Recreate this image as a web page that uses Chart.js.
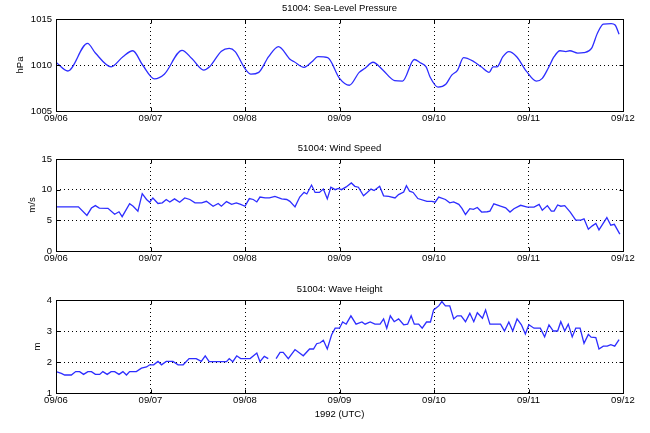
<!DOCTYPE html>
<html>
<head>
<meta charset="utf-8">
<script src="https://cdn.jsdelivr.net/npm/chart.js@4/dist/chart.umd.min.js"></script>
<style>
  html, body { margin: 0; padding: 0; background: #ffffff; }
  body { width: 650px; height: 433px; position: relative; overflow: hidden; }
  canvas { position: absolute; left: 0; }
</style>
</head>
<body>
<canvas id="c1" width="650" height="140" style="top:0px"></canvas>
<canvas id="c2" width="650" height="140" style="top:140px"></canvas>
<canvas id="c3" width="650" height="153" style="top:280px"></canvas>
<script>
// ---- data (x in hours since 1992-09-06 00:00 UTC) ----
const dayLabels = ['09/06', '09/07', '09/08', '09/09', '09/10', '09/11', '09/12'];

const pressureHours = [0, 3, 8, 10, 14, 17, 19.5, 22, 25, 27.5, 32, 34.5, 37.5, 39, 42, 44, 45.5, 48, 49.5, 51.5,
  54, 56.5, 59.5, 60.5, 63, 65, 66.5, 69, 72, 74.5, 77, 78.5, 80.5, 83, 86, 88, 91, 92.5, 94, 95,
  97, 99, 100.5, 102, 103.5, 106, 108, 110, 111, 112, 113.5, 115, 117, 119.5, 122, 123.5, 125, 126.5, 128, 129.5,
  130.5, 132.5, 134, 136, 137.5, 139, 141, 142, 143];
const pressureValues = [1010.3, 1009.35, 1012.35, 1011.3, 1009.8, 1010.9, 1011.55, 1010.0, 1008.5, 1009.0,
  1011.6, 1010.7, 1009.45, 1009.8, 1011.5, 1011.8, 1011.45, 1009.6, 1009.0, 1009.2,
  1010.9, 1012.0, 1010.6, 1010.35, 1009.75, 1010.35, 1010.9, 1010.8, 1008.55, 1007.8,
  1009.2, 1009.65, 1010.3, 1009.45, 1008.3, 1008.25, 1010.6, 1010.25, 1009.8, 1008.7,
  1007.6, 1007.9, 1008.9, 1009.45, 1010.8, 1010.4, 1009.8, 1009.2, 1009.8, 1009.8,
  1010.9, 1011.45, 1010.9, 1009.3, 1008.25, 1008.55, 1009.65, 1010.9, 1011.55, 1011.45,
  1011.55, 1011.3, 1011.35, 1011.8, 1013.45, 1014.45, 1014.5, 1014.35, 1013.35];

const windHours = [0, 5.7, 7.85, 9, 10, 11, 13.2, 14.9, 16, 16.8, 18.7, 19.6, 20.8, 21.9, 23, 23.8, 24.6, 25.9, 27, 28,
  28.9, 30.1, 31.4, 32.7, 34, 35.3, 37, 38.2, 39.9, 41.2, 42, 43.3, 44.6, 45.8, 46.9, 48, 49.1, 50.1, 51, 51.8,
  53.1, 54.2, 55.6, 57.3, 58.6, 59.4, 60.7, 61.9, 63, 63.7, 64.9, 65.8, 66.9, 67.9, 68.9, 69.8, 70.9, 71.7, 72.5, 73.7,
  75, 75.9, 76.8, 78.1, 78.9, 80, 80.8, 82.2, 83.2, 84.5, 86.1, 87, 88.3, 89, 89.8, 90.7, 91.9, 94.2, 95.5, 96.3,
  97.2, 98.9, 100, 101, 102.3, 103.1, 104, 105.1, 106, 107, 108.1, 109.5, 110.2, 111.2, 112.9, 114.2, 115.3, 116.3, 118, 119.7,
  121.4, 122.7, 123.5, 124.8, 125.8, 126.5, 127.4, 128.2, 129.2, 130.6, 132, 133.3, 134.1, 135.2, 136.2, 137.1, 137.9, 138.8, 139.9, 140.9,
  141.8, 143.2];
const windSpeed = [7.2, 7.2, 5.8, 7.0, 7.4, 7.0, 6.95, 6.0, 6.4, 5.6, 7.7, 7.3, 6.5, 9.35, 8.4, 7.95, 8.65, 7.75, 7.85, 8.4,
  8.0, 8.5, 7.95, 8.65, 8.4, 7.85, 7.85, 8.1, 7.3, 7.75, 7.3, 8.05, 7.6, 7.85, 7.6, 7.3, 8.55, 8.4, 8.0, 8.8,
  8.65, 8.65, 8.9, 8.5, 8.4, 8.1, 7.2, 8.8, 9.55, 9.3, 10.75, 9.55, 9.55, 10.1, 8.5, 10.4, 10.0, 10.2, 10.0, 10.45,
  11.1, 10.55, 10.4, 9.0, 9.45, 10.1, 9.85, 10.55, 9.0, 8.9, 8.65, 9.2, 9.6, 10.65, 9.75, 9.55, 8.55, 8.1, 8.1, 7.95,
  8.8, 8.4, 7.85, 8.0, 7.6, 6.95, 5.95, 6.9, 6.8, 7.1, 6.35, 6.4, 6.5, 7.7, 7.3, 7.05, 6.35, 6.9, 7.45, 7.15,
  7.15, 7.6, 6.65, 7.4, 6.5, 6.5, 7.5, 7.3, 7.4, 6.35, 5.05, 5.05, 5.25, 3.55, 4.1, 4.5, 3.45, 4.35, 5.45, 4.2,
  4.35, 2.75];

const waveHours = [0, 1.35, 2.2, 3.9, 5, 6, 7, 8.1, 9, 10, 11.1, 11.9, 13, 14, 14.9, 16, 17, 17.9, 18.7, 20.4,
  21.7, 23, 23.8, 24.8, 25.9, 26.8, 28, 29.7, 31, 32.3, 33.8, 35.6, 36.9, 37.9, 38.9, 40.8, 43.3, 44, 44.9, 45.9,
  46.9, 49.3, 51, 51.8, 52.9, 53.9, 55, 55.9, 56.9, 57.7, 59, 60.7, 62.8, 64.4, 65.4, 66.2, 67.1, 67.9, 68.9, 70,
  70.9, 72, 72.8, 73.7, 74.9, 76.2, 77.7, 78.5, 79.8, 81, 82.3, 83.2, 84, 84.9, 85.9, 87, 88.3, 89.3, 90.2, 91,
  92.1, 93, 94.1, 95.1, 95.9, 97.2, 98, 98.9, 100, 101, 101.9, 102.9, 104, 105.1, 106.1, 107, 108.3, 109.1, 110.2, 111.7,
  112.9, 113.9, 115, 116, 117.1, 118.2, 119.2, 120.1, 121.4, 123, 124.1, 125.2, 126.3, 127.4, 128.2, 129.2, 130.1, 131.1,
  132, 133.1, 134.1, 135.2, 135.9, 137.1, 137.9, 139, 140, 140.9, 141.9, 143];
const waveHeight = [1.69, 1.63, 1.58, 1.58, 1.69, 1.69, 1.6, 1.69, 1.69, 1.6, 1.6, 1.69, 1.6, 1.69, 1.69, 1.6, 1.69, 1.58, 1.69, 1.69,
  1.8, 1.84, 1.91, 1.91, 2.02, 1.91, 2.02, 2.02, 1.91, 1.91, 2.11, 2.11, 2.02, 2.2, 2.01, 2.01, 2.01, 2.11, 2.01, 2.2,
  2.11, 2.11, 2.29, 2.01, 2.18, 2.11, null, 2.11, 2.31, 2.31, 2.11, 2.4, 2.2, 2.42, 2.42, 2.59, 2.62, 2.7, 2.42, 2.88,
  3.09, 3.09, 3.29, 3.22, 3.49, 3.22, 3.29, 3.22, 3.29, 3.22, 3.22, 3.39, 3.09, 3.49, 3.3, 3.39, 3.2, 3.22, 3.49, 3.22,
  3.22, 3.09, 3.29, 3.29, 3.68, 3.81, 3.95, 3.81, 3.81, 3.39, 3.49, 3.49, 3.3, 3.57, 3.3, 3.59, 3.41, 3.68, 3.22, 3.22,
  3.22, 3.0, 3.29, 3.0, 3.39, 3.2, 2.9, 3.2, 3.09, 3.09, 2.81, 3.2, 3.0, 3.0, 3.3, 3.0, 3.22, 2.81,
  3.09, 3.09, 2.6, 2.89, 2.8, 2.79, 2.42, 2.51, 2.51, 2.56, 2.51, 2.72];

const FONT = { family: '"Liberation Sans", Arial, Helvetica, sans-serif', size: 9.5 };
const LINE_COLOR = 'rgb(45,45,255)';

// frame, inward tick marks and panel title
const framePlugin = {
  id: 'frameTitle',
  afterDraw(chart, args, opts) {
    const { ctx, chartArea: a, scales } = chart;
    const L = Math.round(a.left) + 0.5, T = Math.round(a.top) + 0.5;
    const R = Math.round(a.right) + 0.5, B = Math.round(a.bottom) + 0.5;
    ctx.save();
    ctx.setLineDash([]);
    ctx.strokeStyle = '#000';
    ctx.lineWidth = 1;
    ctx.strokeRect(L, T, R - L, B - T);
    const tl = 4;
    ctx.beginPath();
    scales.x.ticks.forEach(t => {
      const px = Math.round(scales.x.getPixelForValue(t.value)) + 0.5;
      ctx.moveTo(px, B); ctx.lineTo(px, B - tl);
      ctx.moveTo(px, T); ctx.lineTo(px, T + tl);
    });
    scales.y.ticks.forEach(t => {
      const py = Math.round(scales.y.getPixelForValue(t.value)) + 0.5;
      ctx.moveTo(L, py); ctx.lineTo(L + tl, py);
      ctx.moveTo(R, py); ctx.lineTo(R - tl, py);
    });
    ctx.stroke();
    if (opts && opts.text) {
      ctx.font = FONT.size + 'px ' + FONT.family;
      ctx.fillStyle = '#000';
      ctx.textAlign = 'center';
      ctx.textBaseline = 'middle';
      ctx.fillText(opts.text, (a.left + a.right) / 2, a.top - 10.5);
    }
    ctx.restore();
  }
};

function toPoints(xs, ys) { return xs.map((x, i) => ({ x: x, y: ys[i] })); }

function makeChart(id, cfg) {
  const font = { family: FONT.family, size: FONT.size };
  return new Chart(document.getElementById(id), {
    type: 'line',
    data: {
      datasets: [{
        data: toPoints(cfg.xs, cfg.ys),
        borderColor: LINE_COLOR,
        borderWidth: 1.3,
        pointRadius: 0,
        fill: false,
        spanGaps: false,
        tension: cfg.smooth ? 0.4 : 0,
        cubicInterpolationMode: cfg.smooth ? 'monotone' : 'default'
      }]
    },
    options: {
      responsive: false,
      animation: false,
      devicePixelRatio: 1,
      layout: { padding: { top: cfg.top, right: 27, left: 0, bottom: 0 } },
      plugins: { legend: { display: false }, tooltip: { enabled: false }, frameTitle: { text: cfg.title } },
      scales: {
        x: {
          type: 'linear', min: 0, max: 144,
          afterFit(s) { s.height = cfg.xHeight; },
          grid: { color: '#000', lineWidth: 1, drawTicks: false },
          border: { display: false, dash: [1, 3] },
          ticks: {
            stepSize: 24, autoSkip: false, maxRotation: 0, padding: 2, color: '#000', font: font,
            callback: (v) => dayLabels[Math.round(v / 24)]
          },
          title: cfg.xTitle ? { display: true, text: cfg.xTitle, color: '#000', font: font, padding: { top: 0, bottom: cfg.xTitlePad } } : { display: false }
        },
        y: {
          type: 'linear', min: cfg.yMin, max: cfg.yMax,
          afterFit(s) { s.width = 56; },
          grid: { color: '#000', lineWidth: 1, drawTicks: false },
          border: { display: false, dash: [1, 3] },
          ticks: { stepSize: cfg.yStep, padding: 4, color: '#000', font: font, callback: (v) => String(v) },
          title: { display: true, text: cfg.yTitle, color: '#000', font: font, padding: { top: cfg.yTitlePad, bottom: 0 } }
        }
      }
    },
    plugins: [framePlugin]
  });
}

makeChart('c1', { xs: pressureHours, ys: pressureValues, smooth: true, title: '51004: Sea-Level Pressure',
  yMin: 1005, yMax: 1015, yStep: 5, yTitle: 'hPa', yTitlePad: 15, top: 19, xHeight: 29 });
makeChart('c2', { xs: windHours, ys: windSpeed, smooth: false, title: '51004: Wind Speed',
  yMin: 0, yMax: 15, yStep: 5, yTitle: 'm/s', yTitlePad: 27, top: 19, xHeight: 29 });
makeChart('c3', { xs: waveHours, ys: waveHeight, smooth: false, title: '51004: Wave Height',
  yMin: 1, yMax: 4, yStep: 1, yTitle: 'm', yTitlePad: 32, top: 20, xHeight: 40,
  xTitle: '1992 (UTC)', xTitlePad: 13 });
</script>
</body>
</html>
